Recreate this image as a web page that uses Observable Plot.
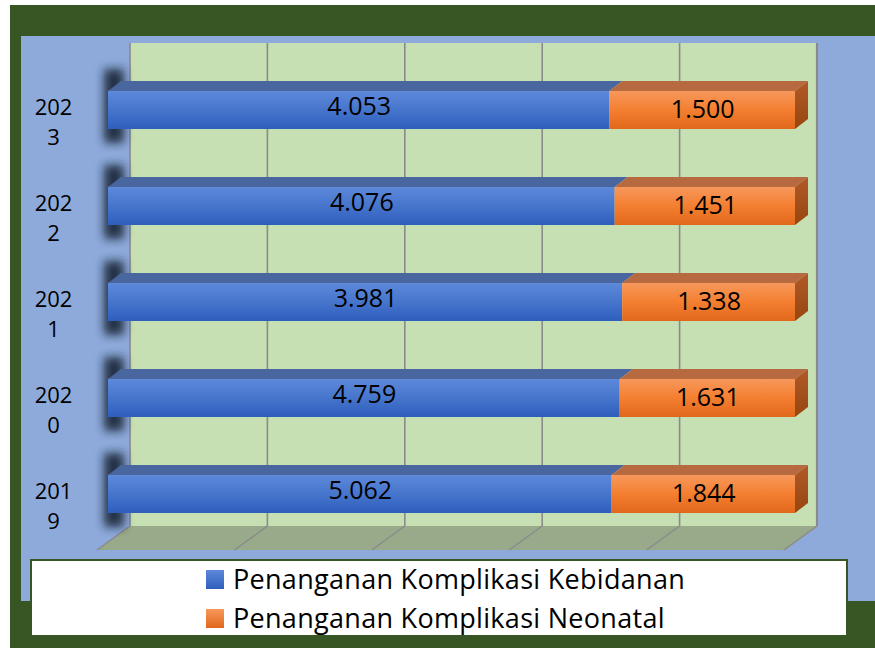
<!DOCTYPE html>
<html>
<head>
<meta charset="utf-8">
<script src="https://cdn.jsdelivr.net/npm/d3@7"></script>
<script src="https://cdn.jsdelivr.net/npm/@observablehq/plot@0.6"></script>
<style>
html,body{margin:0;padding:0;background:#fff;}
#page{position:relative;width:875px;height:648px;overflow:hidden;font-family:"Open Sans",sans-serif;}
#frame{position:absolute;left:10px;top:5px;right:0;bottom:0;background:#375623;}
#panel{position:absolute;left:21px;top:36px;right:0;height:565px;background:#8eaadb;}
#chart{position:absolute;left:0;top:0;}
#legendBox{position:absolute;left:30px;top:559px;width:814px;height:74px;background:#fff;border:2px solid #375623;}
.item{position:absolute;left:206px;height:39px;line-height:39px;font-size:27px;letter-spacing:0.3px;color:#000;white-space:nowrap;}
.sw{position:absolute;left:0;width:18px;height:19px;}
.lbl{position:absolute;left:27px;top:0;}
</style>
</head>
<body>
<div id="page">
  <div id="frame"></div>
  <div id="panel"></div>
  <div id="chart"></div>
  <div id="legendBox"></div>
  <div id="legend"></div>
</div>
<script>
// ---- data ----
const years = ["2023", "2022", "2021", "2020", "2019"];
const yearLabels = ["202\n3", "202\n2", "202\n1", "202\n0", "201\n9"];
const series = ["Penanganan Komplikasi Kebidanan", "Penanganan Komplikasi Neonatal"];
const kebidanan = [4053, 4076, 3981, 4759, 5062];
const neonatal = [1500, 1451, 1338, 1631, 1844];
const xTicks = [0, 0.2, 0.4, 0.6, 0.8, 1];

const rows = years.flatMap((yr, i) => [
  {year: yr, series: series[0], value: kebidanan[i]},
  {year: yr, series: series[1], value: neonatal[i]}
]);

const fmt = d3.formatLocale({decimal: ",", thousands: ".", grouping: [3], currency: ["Rp", ""]}).format(",d");

const DX = 13, DY = 10;      // bar depth
const WX = 22;               // wall offset behind bar fronts
const FX = 33, FY = 24;      // floor depth

// gradient & filter definitions
function defsMark() {
  const g = d3.create("svg:g");
  const defs = g.append("defs");
  const lg = (id, stops) => {
    const l = defs.append("linearGradient").attr("id", id)
      .attr("x1", 0).attr("y1", 0).attr("x2", 0).attr("y2", 1);
    stops.forEach(([o, c]) => l.append("stop").attr("offset", o).attr("stop-color", c));
  };
  lg("gBlue", [[0, "#5d89da"], [0.5, "#4675cc"], [1, "#2e5ebd"]]);
  lg("gOrange", [[0, "#f7985c"], [0.5, "#f47f30"], [1, "#e1671b"]]);
  lg("gSide", [[0, "#b05b27"], [1, "#984512"]]);
  defs.append("filter").attr("id", "blur")
    .attr("filterUnits", "userSpaceOnUse")
    .attr("x", 0).attr("y", 0).attr("width", 875).attr("height", 600)
    .append("feGaussianBlur").attr("stdDeviation", 5);
  return g.node();
}

// back wall, floor, gridlines, shadows
function backMark(index, scales) {
  const x = scales.x, y = scales.y, bw = y.bandwidth();
  const top = y(years[0]) - 48;
  const bottom = y(years[years.length - 1]) + bw + 13;
  const left = x(0) + WX, right = x(1) + WX + 1;
  const g = d3.create("svg:g");
  g.append("polygon")
    .attr("points", [[left, bottom], [right, bottom], [right - FX, bottom + FY], [left - FX, bottom + FY]].join(" "))
    .attr("fill", "#98aa89");
  g.append("rect").attr("x", left).attr("y", top).attr("width", right - left).attr("height", bottom - top)
    .attr("fill", "#c6e0b4");
  xTicks.forEach(t => {
    const xx = Math.min(x(t) + WX, right);
    g.append("line").attr("x1", xx).attr("x2", xx).attr("y1", top).attr("y2", bottom)
      .attr("stroke", "#8a8a8a").attr("stroke-width", t === 1 ? 2.2 : 1.6);
    g.append("line").attr("x1", xx).attr("x2", xx - FX).attr("y1", bottom).attr("y2", bottom + FY)
      .attr("stroke", "#8a8a8a").attr("stroke-width", 1.4);
  });
  const sh = g.append("g").attr("filter", "url(#blur)");
  years.forEach(yr => {
    const yt = y(yr);
    sh.append("rect").attr("x", x(0) - 4).attr("y", yt - DY - 12)
      .attr("width", 20).attr("height", bw + DY + 26)
      .attr("fill", "#1b2333").attr("opacity", 0.9);
  });
  return g.node();
}

// top and side faces of the 3D bars
function depthMark(index, scales) {
  const x = scales.x, y = scales.y, bw = y.bandwidth();
  const g = d3.create("svg:g");
  years.forEach((yr, i) => {
    const total = kebidanan[i] + neonatal[i];
    const split = kebidanan[i] / total;
    const yt = y(yr), yb = yt + bw;
    const segs = [[0, split, "#4a669f"], [split, 1, "#b76a40"]];
    segs.forEach(([a, b, c]) => {
      g.append("polygon")
        .attr("points", [[x(a), yt], [x(b), yt], [x(b) + DX, yt - DY], [x(a) + DX, yt - DY]].join(" "))
        .attr("fill", c);
    });
    const xr = x(1);
    g.append("polygon")
      .attr("points", [[xr, yt], [xr + DX, yt - DY], [xr + DX, yb - DY], [xr, yb]].join(" "))
      .attr("fill", "url(#gSide)");
  });
  return g.node();
}

const plot = Plot.plot({
  width: 875,
  height: 600,
  marginLeft: 108,
  marginRight: 80,
  marginTop: 32,
  marginBottom: 28,
  style: {background: "none", overflow: "visible"},
  x: {domain: [0, 1], axis: null},
  y: {domain: years, padding: 0.6, axis: null},
  color: {domain: series, range: ["url(#gBlue)", "url(#gOrange)"]},
  marks: [
    defsMark,
    backMark,
    depthMark,
    Plot.barX(rows, Plot.stackX({x: "value", y: "year", fill: "series", offset: "normalize"})),
    Plot.text(rows, Plot.stackX({
      x: "value", y: "year", offset: "normalize",
      text: d => d.series === series[0] ? fmt(d.value) : null,
      dy: -4, fontSize: 25, fontFamily: "Open Sans", fill: "#000"
    })),
    Plot.text(rows, Plot.stackX({
      x: "value", y: "year", offset: "normalize",
      text: d => d.series === series[1] ? fmt(d.value) : null,
      dy: -1, fontSize: 25, fontFamily: "Open Sans", fill: "#000"
    })),
    Plot.text(years, {
      y: d => d, text: yearLabels, frameAnchor: "left", dx: -55, dy: 10,
      textAnchor: "middle", lineHeight: 1.36, fontSize: 22, fontFamily: "Open Sans", fill: "#000"
    })
  ]
});
document.getElementById("chart").appendChild(plot);

// legend
const legend = document.getElementById("legend");
const swatchBg = ["linear-gradient(#5d89da,#2e5ebd)", "linear-gradient(#f7985c,#e1671b)"];
series.forEach((s, i) => {
  const item = document.createElement("div");
  item.className = "item";
  item.style.top = (559 + i * 39) + "px";
  const sw = document.createElement("div");
  sw.className = "sw";
  sw.style.top = "11px";
  sw.style.background = swatchBg[i];
  const lb = document.createElement("div");
  lb.className = "lbl";
  lb.textContent = s;
  item.appendChild(sw);
  item.appendChild(lb);
  legend.appendChild(item);
});
</script>
</body>
</html>
